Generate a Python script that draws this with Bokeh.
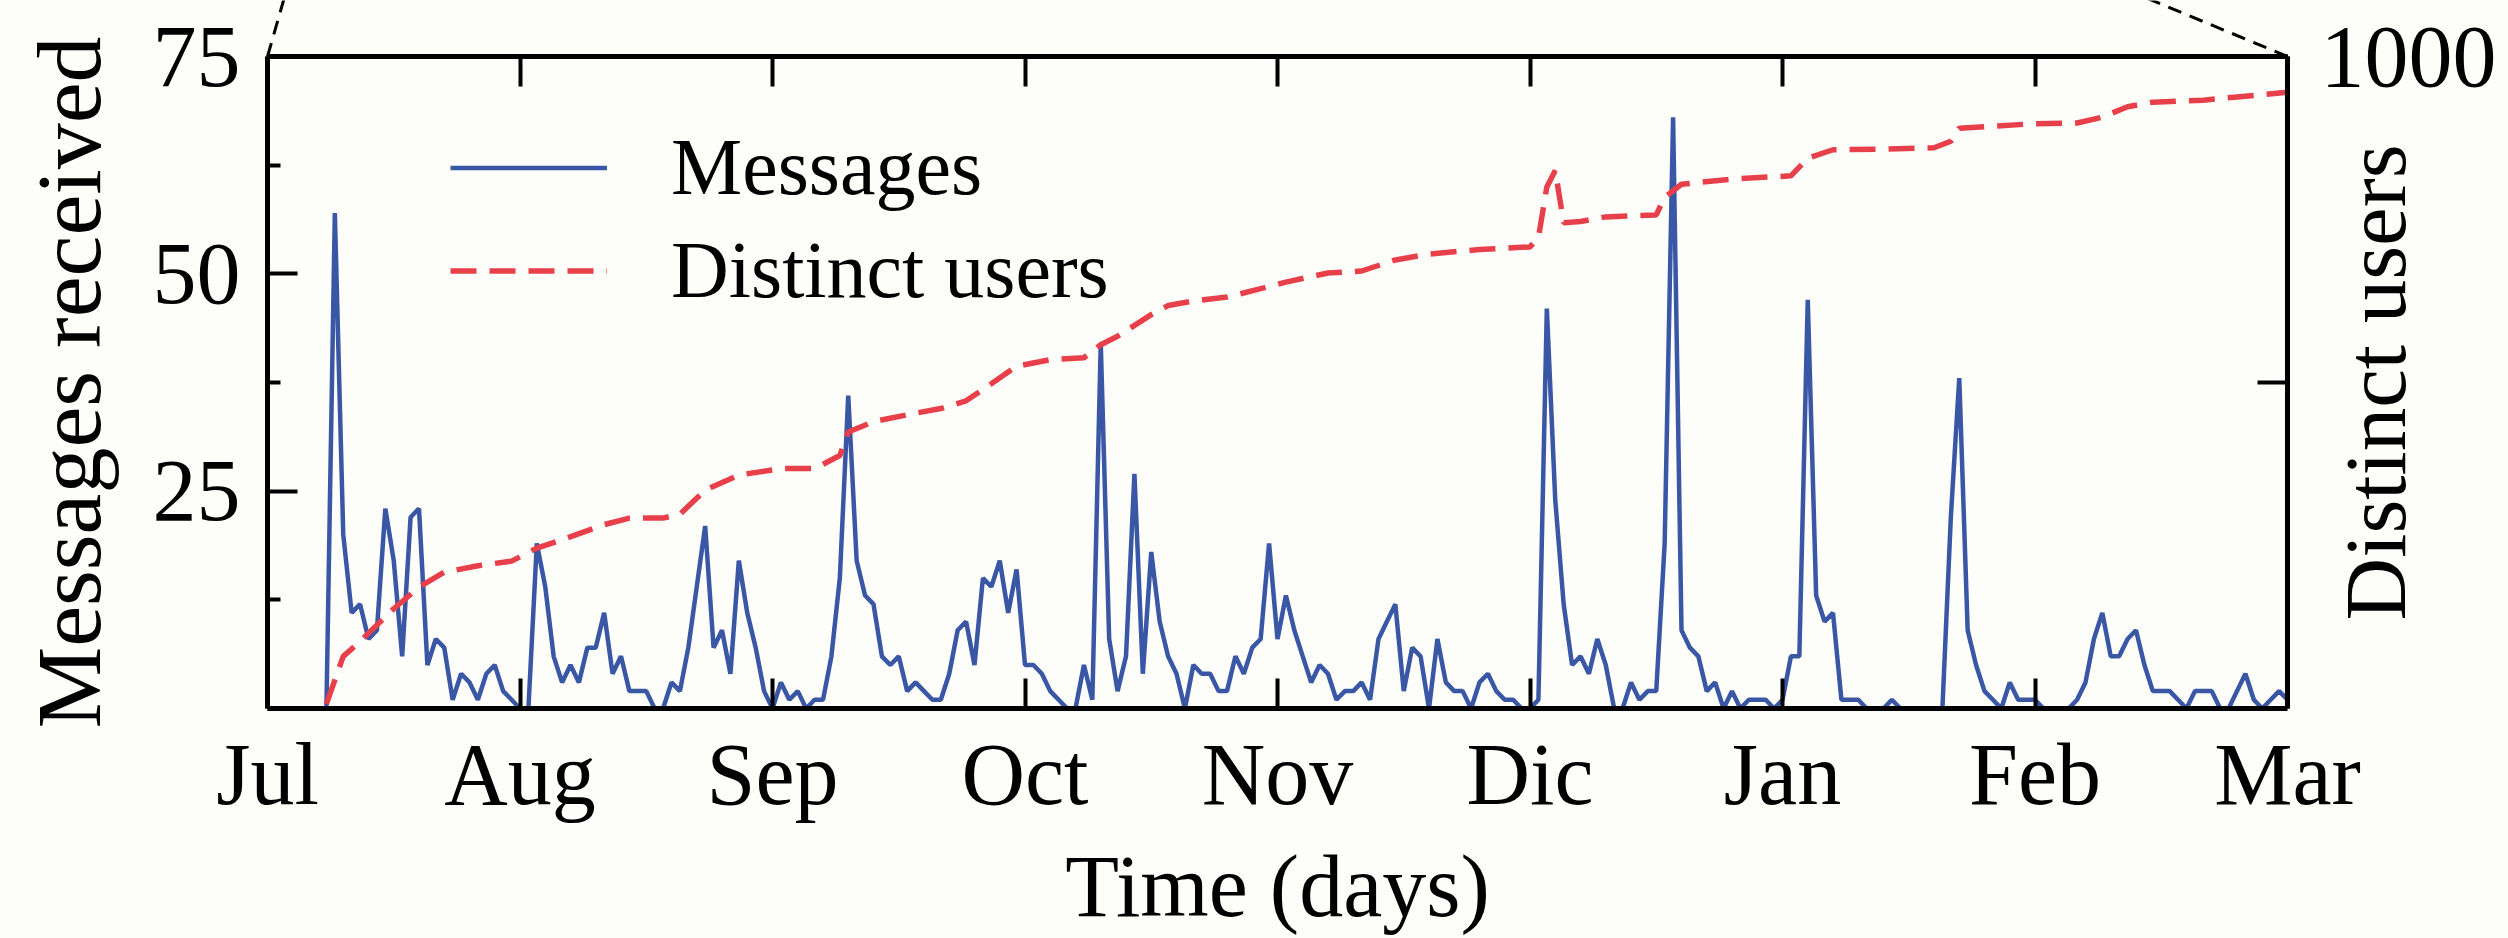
import math
from bokeh.plotting import figure
from bokeh.models import (Range1d, LinearAxis, FixedTicker, Legend, LegendItem,
                          Label)
from bokeh.embed import file_html
from bokeh.resources import INLINE

# ---------------- data ----------------
month_labels = ["Jul", "Aug", "Sep", "Oct", "Nov", "Dic", "Jan", "Feb", "Mar"]
month_ticks = [0, 30, 60, 90, 120, 150, 180, 210, 240]

# daily messages received (day 7 .. day 240)
message_days = list(range(7, 241))
messages = [
    0, 57, 20, 11, 12, 8, 9, 23, 17, 6,
    22, 23, 5, 8, 7, 1, 4, 3, 1, 4,
    5, 2, 1, 0, 0, 19, 14, 6, 3, 5,
    3, 7, 7, 11, 4, 6, 2, 2, 2, 0,
    0, 3, 2, 7, 14, 21, 7, 9, 4, 17,
    11, 7, 2, 0, 3, 1, 2, 0, 1, 1,
    6, 15, 36, 17, 13, 12, 6, 5, 6, 2,
    3, 2, 1, 1, 4, 9, 10, 5, 15, 14,
    17, 11, 16, 5, 5, 4, 2, 1, 0, 0,
    5, 1, 42, 8, 2, 6, 27, 4, 18, 10,
    6, 4, 0, 5, 4, 4, 2, 2, 6, 4,
    7, 8, 19, 8, 13, 9, 6, 3, 5, 4,
    1, 2, 2, 3, 1, 8, 10, 12, 2, 7,
    6, 0, 8, 3, 2, 2, 0, 3, 4, 2,
    1, 1, 0, 0, 1, 46, 24, 12, 5, 6,
    4, 8, 5, 0, 0, 3, 1, 2, 2, 19,
    68, 9, 7, 6, 2, 3, 0, 2, 0, 1,
    1, 1, 0, 1, 6, 6, 47, 13, 10, 11,
    1, 1, 1, 0, 0, 0, 1, 0, 0, 0,
    0, 0, 0, 22, 38, 9, 5, 2, 1, 0,
    3, 1, 1, 1, 0, 0, 0, 0, 1, 3,
    8, 11, 6, 6, 8, 9, 5, 2, 2, 2,
    1, 0, 2, 2, 2, 0, 0, 2, 4, 1,
    0, 1, 2, 1,
]

# cumulative distinct users (right axis)
user_days = [7, 9, 11, 15, 18, 21, 25, 29, 32, 35,
             40, 43, 47, 49, 52, 56, 61, 65, 68, 69,
             72, 77, 80, 83, 86, 89, 93, 97, 99, 101,
             105, 107, 110, 114, 118, 121, 126, 130, 134, 138,
             144, 150, 151, 152, 153, 154, 156, 159, 165, 166,
             168, 174, 181, 183, 186, 192, 198, 200, 201, 210,
             215, 218, 221, 224, 230, 234, 240]
users = [7, 80, 103, 153, 186, 209, 219, 226, 246, 259,
         282, 292, 292, 298, 335, 358, 368, 368, 388, 424,
         440, 453, 460, 472, 498, 525, 535, 538, 558, 571,
         604, 618, 625, 631, 644, 654, 668, 671, 688, 697,
         704, 708, 722, 800, 825, 745, 747, 754, 757, 784,
         804, 812, 817, 844, 857, 858, 860, 870, 890, 897,
         898, 907, 923, 930, 933, 938, 945]

left_ticks = [0, 25, 50, 75]
left_minor = [12.5, 37.5, 62.5]
right_ticks = [500, 1000]
users_max = 1000

# ---------------- styling ----------------
FONT = "Liberation Serif"
BG = "#fdfdf9"
BLUE = "#3a57a6"
RED = "#e8404a"

W, H = 2508, 938
ML, MR, MT, MB = 267, 221, 56, 230   # where the axes box sits inside the canvas
x0, x1 = 0, 240
y0, y1 = 0, 75

box_w = W - ML - MR
box_h = H - MT - MB
px_x = box_w / (x1 - x0)
px_y = box_h / (y1 - y0)

# the drawing frame covers the whole canvas; the box is drawn by fixed axes
X_LEFT, X_RIGHT = x0 - ML / px_x, x1 + MR / px_x
Y_BOT, Y_TOP = y0 - MB / px_y, y1 + MT / px_y

p = figure(width=W, height=H, output_backend="svg", toolbar_location=None,
           x_range=Range1d(X_LEFT, X_RIGHT), y_range=Range1d(Y_BOT, Y_TOP),
           min_border_left=0, min_border_right=0,
           min_border_top=0, min_border_bottom=0)
p.extra_y_ranges = {"users": Range1d(users_max * Y_BOT / y1,
                                     users_max * Y_TOP / y1)}

p.background_fill_color = BG
p.border_fill_color = BG
p.outline_line_color = None
p.xgrid.grid_line_color = None
p.ygrid.grid_line_color = None


def style_axis(ax, size):
    ax.axis_line_color = "black"
    ax.axis_line_width = 5
    ax.major_tick_in = 30
    ax.major_tick_out = 0
    ax.minor_tick_in = 13
    ax.minor_tick_out = 0
    ax.major_tick_line_width = 4
    ax.minor_tick_line_width = 4
    ax.major_tick_line_color = "black"
    ax.minor_tick_line_color = "black"
    ax.major_label_text_font = FONT
    ax.major_label_text_font_size = size
    ax.major_label_text_color = "black"


# bottom axis
xa = p.xaxis[0]
xa.ticker = FixedTicker(ticks=month_ticks)
xa.fixed_location = y0
xa.bounds = (x0, x1)
xa.major_label_overrides = {t: m for t, m in zip(month_ticks, month_labels)}
style_axis(xa, "88px")
xa.major_label_standoff = 17

# left axis
ya = p.yaxis[0]
ya.ticker = FixedTicker(ticks=left_ticks, minor_ticks=left_minor)
ya.fixed_location = x0
ya.bounds = (y0, y1)
ya.major_label_overrides = {0: ""}
style_axis(ya, "88px")
ya.major_label_standoff = 27

# top border with ticks
top = LinearAxis(ticker=FixedTicker(ticks=month_ticks), fixed_location=y1,
                 bounds=(x0, x1))
style_axis(top, "0px")
top.major_label_standoff = 0
top.major_label_overrides = {t: "" for t in month_ticks}
p.add_layout(top, "above")

# right axis
ra = LinearAxis(y_range_name="users", ticker=FixedTicker(ticks=right_ticks),
                bounds=(0, users_max), fixed_location=x1)
style_axis(ra, "88px")
ra.major_label_overrides = {500: ""}
ra.major_label_standoff = 33
p.add_layout(ra, "right")

# ---------------- axis titles ----------------
p.add_layout(Label(x=x0 - 199 / px_x, y=(y0 + y1) / 2, text="Messages received",
                   angle=math.pi / 2, text_align="center",
                   text_baseline="alphabetic", text_font=FONT,
                   text_font_size="92px", text_color="black"))
p.add_layout(Label(x=(x0 + x1) / 2, y=y0 - 178 / px_y, text="Time (days)",
                   text_align="center", text_baseline="alphabetic",
                   text_font=FONT, text_font_size="88px", text_color="black"))
p.add_layout(Label(x=x1 + 88 / px_x, y=(y0 + y1) / 2, text="Distinct users",
                   angle=math.pi / 2, text_align="center",
                   text_baseline="alphabetic", text_font=FONT,
                   text_font_size="87px", text_color="black"))

# ---------------- data lines ----------------
msg = p.line(message_days, messages, line_color=BLUE, line_width=4.5)
usr = p.line(user_days, users, y_range_name="users", line_color=RED,
             line_width=5.5, line_dash="26 13")

# ---------------- legend ----------------
legend = Legend(items=[LegendItem(label="Messages", renderers=[msg]),
                       LegendItem(label="Distinct users", renderers=[usr])],
                location=(450, 616), orientation="vertical",
                border_line_color=None, background_fill_alpha=0,
                padding=0, margin=0, spacing=0,
                glyph_width=157, glyph_height=103, label_height=103,
                label_standoff=64, label_text_font=FONT,
                label_text_font_size="80px", label_text_color="black")
p.add_layout(legend)

# ---------------- zoom connector lines (dashed, from the box corners) ----------------
rise = MT + 12  # px above the box top
p.line([x0, x0 + 0.286 * rise / px_x], [y1, y1 + rise / px_y],
       line_color="black", line_width=3, line_dash="14 9")
p.line([x1, x1 - 2.41 * rise / px_x], [y1, y1 + rise / px_y],
       line_color="black", line_width=3, line_dash="14 9")

open("out.html", "w").write(file_html(p, INLINE))
